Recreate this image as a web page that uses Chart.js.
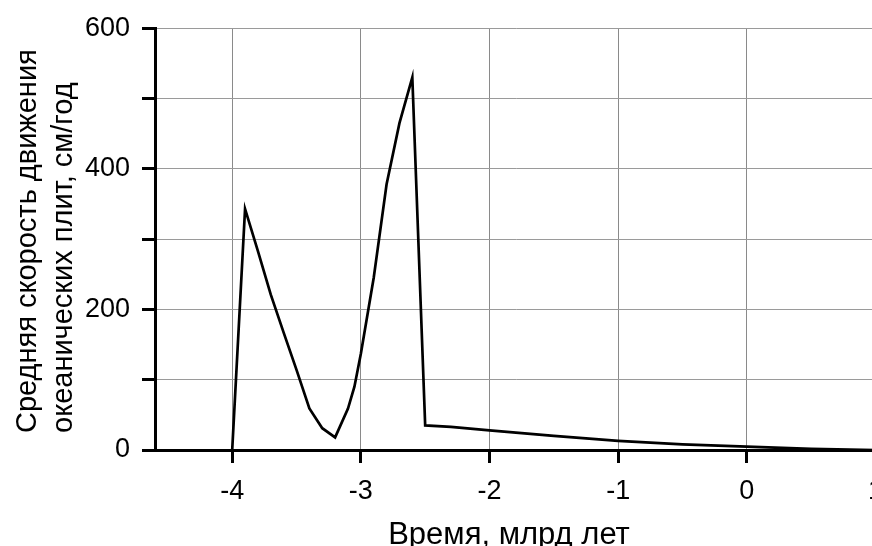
<!DOCTYPE html>
<html>
<head>
<meta charset="utf-8">
<script src="https://cdn.jsdelivr.net/npm/chart.js@4.4.1/dist/chart.umd.min.js"></script>
<style>
  html, body { margin: 0; padding: 0; background: #fff; overflow: hidden; }
  #wrap { width: 872px; height: 546px; overflow: hidden; position: relative; }
  #speedChart { display: block; position: absolute; left: 0; top: 0; }
</style>
</head>
<body>
<div id="wrap"><canvas id="speedChart" width="895" height="546"></canvas></div>
<script>
// время, млрд лет и средняя скорость, см/год
const years  = [-4, -3.9, -3.8, -3.7, -3.6, -3.5, -3.4, -3.3, -3.2, -3.1, -3.05, -3.0, -2.9, -2.8, -2.7, -2.6, -2.5, -2.3, -2.0, -1.5, -1.0, -0.5, 0, 0.5, 1.0];
const speeds = [0, 343, 283, 221, 167, 114, 59, 31, 18, 59, 90, 137, 245, 378, 465, 530, 35, 33, 28, 20, 13, 8, 4.7, 1.5, 0];

const xTicks = [-4, -3, -2, -1, 0, 1];
const yTicks = [0, 100, 200, 300, 400, 500, 600];
const yLabels = [0, 200, 400, 600];

const xTitle = 'Время, млрд лет';
const yTitle = ['Средняя скорость движения', 'океанических плит, см/год'];

const FONT = '"Liberation Sans", Arial, sans-serif';

// подписи осей рисуем сами, чтобы выровнять как в оригинале
const axisTitles = {
    id: 'axisTitles',
    afterDraw(chart) {
        const { ctx } = chart;
        ctx.save();
        ctx.fillStyle = '#000';
        ctx.font = '31px ' + FONT;
        ctx.textAlign = 'center';
        ctx.textBaseline = 'alphabetic';
        ctx.fillText(xTitle, 509, 544);

        ctx.font = '29px ' + FONT;
        ctx.textAlign = 'left';
        ctx.translate(0, 433);
        ctx.rotate(-Math.PI / 2);
        ctx.fillText(yTitle[0], 0, 36);
        ctx.fillText(yTitle[1], 0, 72);
        ctx.restore();
    }
};

const data = years.map((x, i) => ({ x: x, y: speeds[i] }));

new Chart(document.getElementById('speedChart'), {
    type: 'line',
    data: {
        datasets: [{
            data: data,
            borderColor: '#000',
            borderWidth: 2.7,
            pointRadius: 0,
            tension: 0,
            fill: false
        }]
    },
    options: {
        responsive: false,
        animation: false,
        layout: { padding: { top: 26, right: 0, left: 0, bottom: 0 } },
        plugins: {
            legend: { display: false },
            tooltip: { enabled: false }
        },
        scales: {
            x: {
                type: 'linear',
                min: -4.6,
                max: 1,
                afterBuildTicks: (scale) => { scale.ticks = xTicks.map(v => ({ value: v })); },
                afterFit: (scale) => { scale.height = 96; },
                grid: { color: '#8a8a8a', lineWidth: 1, tickLength: 13, tickColor: '#000', tickWidth: 3 },
                border: { display: true, color: '#000', width: 3 },
                ticks: {
                    color: '#000',
                    padding: 12,
                    maxRotation: 0,
                    autoSkip: false,
                    font: { family: FONT, size: 27 },
                    callback: (v) => String(v)
                }
            },
            y: {
                min: 0,
                max: 600,
                afterBuildTicks: (scale) => { scale.ticks = yTicks.map(v => ({ value: v })); },
                afterFit: (scale) => { scale.width = 155; },
                grid: { color: '#9a9a9a', lineWidth: 1, tickLength: 13, tickColor: '#000', tickWidth: 3 },
                border: { display: true, color: '#000', width: 3 },
                ticks: {
                    color: '#000',
                    padding: 12,
                    autoSkip: false,
                    font: { family: FONT, size: 27 },
                    callback: (v) => yLabels.includes(v) ? String(v) : ''
                }
            }
        }
    },
    plugins: [axisTitles]
});
</script>
</body>
</html>
